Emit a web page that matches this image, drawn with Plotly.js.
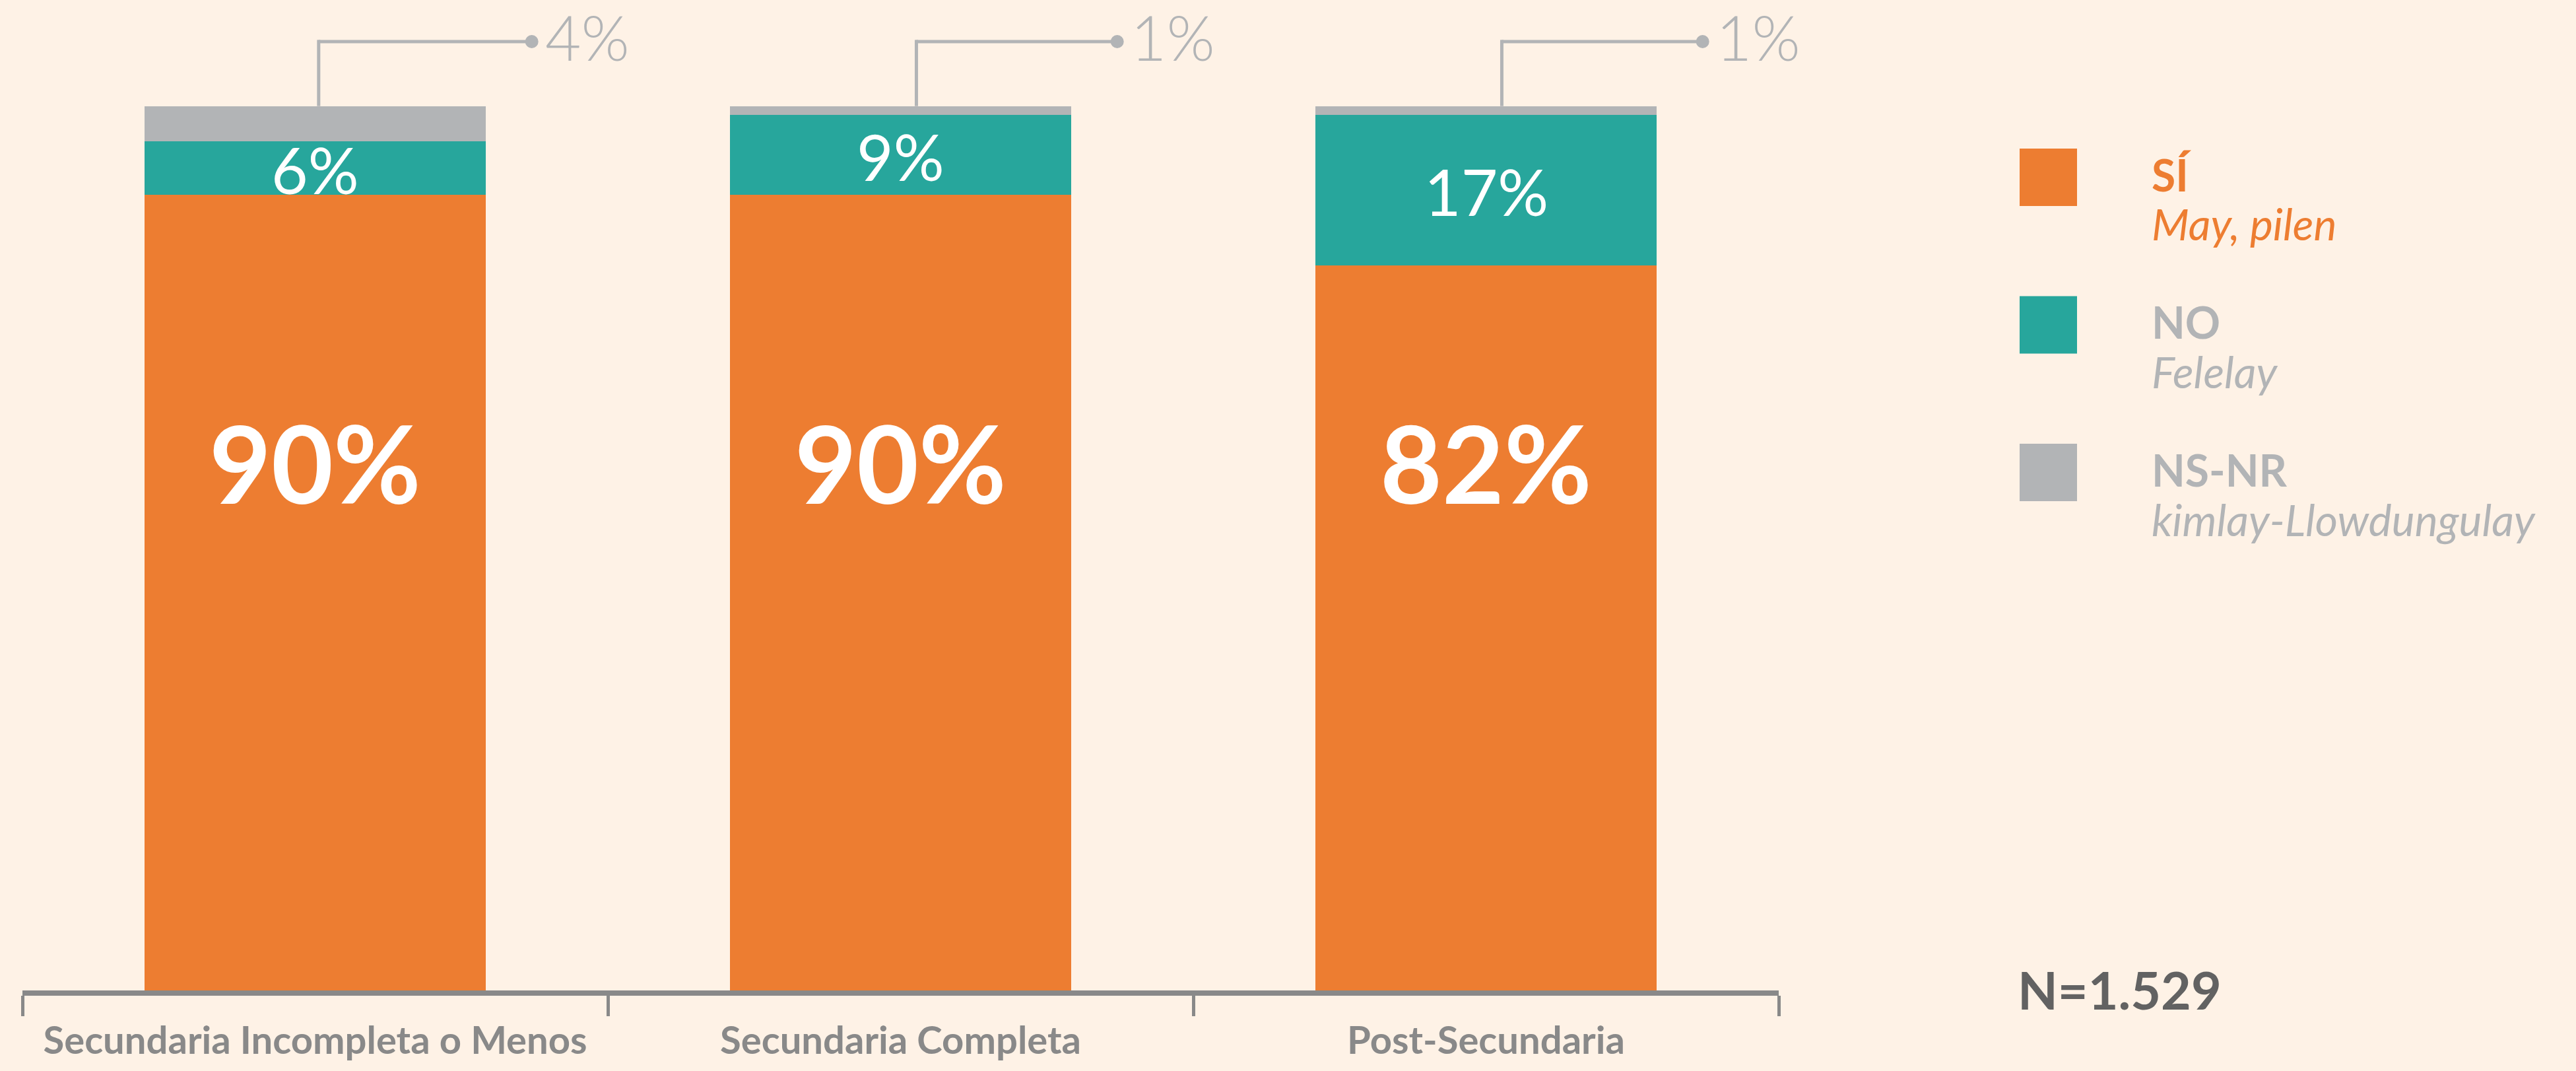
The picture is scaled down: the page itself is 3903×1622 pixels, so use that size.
<!DOCTYPE html>
<html>
<head>
<meta charset="utf-8">
<script src="https://cdn.plot.ly/plotly-3.0.1.min.js"></script>
<style>html,body{margin:0;padding:0;background:#FEF2E6;}</style>
</head>
<body>
<div id="chart" style="width:3903px;height:1622px;"></div>
<script>
// ---- data ----
const categories = ['Secundaria Incompleta o Menos', 'Secundaria Completa', 'Post-Secundaria'];
const siValues = [90, 90, 82];
const noValues = [6, 9, 17];
const nsnrValues = [4, 1, 1];
const seriesNames = ['SÍ', 'NO', 'NS-NR'];
const seriesSubtitles = ['May, pilen', 'Felelay', 'kimlay-Llowdungulay'];
const sampleNote = 'N=1.529';

// ---- style ----
const W = 3903, H = 1622, plotBottom = 1500;
const FONT = 'Lato, "Open Sans", sans-serif';
const px = x => x / W;
const py = y => (plotBottom - y) / plotBottom;
const colors = ['#ED7D31', '#27A69C', '#B2B4B6'];
const axisGray = '#898989';
const labelGray = '#B2B4B6';
const bg = '#FEF2E6';
const titleColors = ['#ED7D31', '#B2B4B6', '#B2B4B6'];

const seriesValues = [siValues, noValues, nsnrValues];
const traces = seriesValues.map((vals, k) => ({
  type: 'bar',
  x: categories,
  y: vals,
  name: seriesNames[k],
  marker: {color: colors[k], line: {width: 0}},
  hoverinfo: 'skip',
  showlegend: false
}));

const annotations = [];
const shapes = [];
const leaderY = 107.3;
const leaderOffset = [0.006, 0.027, 0.027];
const leaderReach = 0.37;
const bigLabelY = 59.7;

categories.forEach((c, i) => {
  annotations.push({
    x: i, y: bigLabelY, xref: 'x', yref: 'y', showarrow: false,
    text: siValues[i] + '%', xanchor: 'center', yanchor: 'middle',
    font: {family: FONT, size: 162, weight: 700, color: '#FFFFFF'}
  });
  annotations.push({
    x: i, y: siValues[i] + noValues[i] / 2, xref: 'x', yref: 'y', showarrow: false,
    text: noValues[i] + '%', xanchor: 'center', yanchor: 'middle', yshift: -2,
    font: {family: FONT, size: 96, weight: 400, color: '#FFFFFF'}
  });
  const top = siValues[i] + noValues[i] + nsnrValues[i];
  const lx = i + leaderOffset[i];
  const dx = i + leaderReach;
  shapes.push({type: 'line', xref: 'x', yref: 'y', x0: lx, x1: lx, y0: top, y1: leaderY + 0.19,
    line: {color: labelGray, width: 5}});
  shapes.push({type: 'line', xref: 'x', yref: 'y', x0: lx, x1: dx, y0: leaderY, y1: leaderY,
    line: {color: labelGray, width: 5}});
  shapes.push({type: 'circle', xref: 'x', yref: 'y', xsizemode: 'pixel', ysizemode: 'pixel',
    xanchor: dx, yanchor: leaderY, x0: -10, x1: 10, y0: -10, y1: 10,
    fillcolor: labelGray, line: {width: 0}});
  annotations.push({
    x: dx, y: leaderY, xref: 'x', yref: 'y', showarrow: false,
    text: nsnrValues[i] + '%', xanchor: 'left', yanchor: 'middle', xshift: 18, yshift: 8,
    height: 84, valign: 'middle',
    font: {family: FONT, size: 94, weight: 300, color: labelGray}
  });
});

// ---- custom legend ----
const legTop0 = 225, legStep = 223.5, sq = 87, legSqX = 3060, legTextX = 3258;
seriesNames.forEach((name, k) => {
  const t = legTop0 + k * legStep;
  shapes.push({type: 'rect', xref: 'paper', yref: 'paper',
    x0: px(legSqX), x1: px(legSqX + sq), y0: py(t + sq), y1: py(t),
    fillcolor: colors[k], line: {width: 0}});
  annotations.push({
    x: px(legTextX), y: py(t + 39), xref: 'paper', yref: 'paper', showarrow: false,
    text: name, xanchor: 'left', yanchor: 'middle',
    font: {family: FONT, size: 66, weight: 700, color: titleColors[k]}
  });
  annotations.push({
    x: px(legTextX), y: py(t + 114), xref: 'paper', yref: 'paper', showarrow: false,
    text: seriesSubtitles[k], xanchor: 'left', yanchor: 'middle',
    font: {family: FONT, size: 66, weight: 400, style: 'italic', color: titleColors[k]}
  });
});
annotations.push({
  x: px(3055), y: py(1498), xref: 'paper', yref: 'paper', showarrow: false,
  text: sampleNote, xanchor: 'left', yanchor: 'middle',
  font: {family: FONT, size: 79, weight: 700, color: '#626262'}
});

const layout = {
  width: W, height: H,
  margin: {l: 0, r: 0, t: 0, b: H - plotBottom},
  paper_bgcolor: bg, plot_bgcolor: bg,
  barmode: 'stack',
  bargap: 0.418,
  showlegend: false,
  xaxis: {
    type: 'category', domain: [px(34), px(2695)], range: [-0.5, 2.5],
    tickson: 'boundaries', ticks: 'outside', ticklen: 31, tickwidth: 5, tickcolor: axisGray,
    tickangle: 0, ticklabelstandoff: 18,
    showline: true, linewidth: 8, linecolor: axisGray,
    showgrid: false, zeroline: false, fixedrange: true,
    tickfont: {family: FONT, size: 58, weight: 700, color: axisGray}
  },
  yaxis: {range: [0, 112], visible: false, fixedrange: true},
  annotations: annotations,
  shapes: shapes
};

Plotly.newPlot('chart', traces, layout, {displayModeBar: false, staticPlot: true});
</script>
</body>
</html>
